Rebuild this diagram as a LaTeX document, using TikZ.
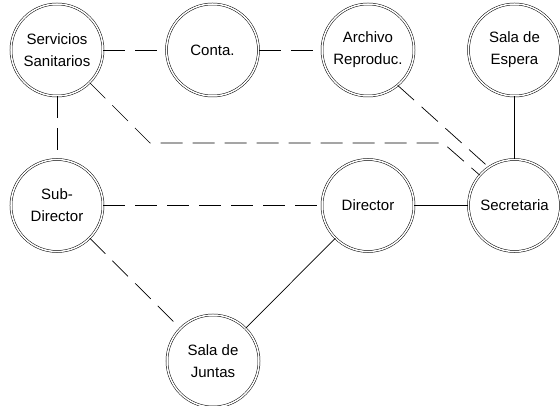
\documentclass[tikz,border=0pt]{standalone}
\usepackage{fontspec}
\setmainfont{Liberation Sans}
\usetikzlibrary{positioning}

\begin{document}
\begin{tikzpicture}[
        node distance=63pt,
        room/.style={circle, draw, double, double distance=1.5pt, line width=0.5pt, minimum size=92pt, inner sep=0pt, align=center, font=\fontsize{15}{22}\selectfont},
        solido/.style={line width=0.7pt},
        guion/.style={line width=0.7pt, dash pattern=on 22pt off 10pt}
    ]
    \useasboundingbox (0pt,0pt) rectangle (560pt,-406pt);
    \node[room] at (57pt,-50pt) (ss) {Servicios\\Sanitarios};
    \node[room, right=of ss] (conta) {Conta.};
    \node[room, right=of conta] (archivo) {Archivo\\Reproduc.};
    \node[room, right=54pt of archivo] (espera) {Sala de\\Espera};
    \node[room, below=of ss] (subdir) {Sub-\\Director};
    \node[room, below=of archivo] (director) {Director};
    \node[room, below=of espera] (secre) {Secretaria};
    \node[room, below=of subdir, xshift=156pt] (juntas) {Sala de\\Juntas};
    \coordinate (codo1) at (150pt,-143pt);
    \coordinate (codo2) at (443pt,-143pt);
    \draw[guion] (ss) -- (conta);
    \draw[guion] (conta) -- (archivo);
    \draw[guion] (ss) -- (subdir);
    \draw[guion] (ss) -- (codo1) -- (codo2) -- (secre);
    \draw[guion] (archivo.-50) -- (secre.124);
    \draw[solido] (espera) -- (secre);
    \draw[guion] (subdir) -- (director);
    \draw[solido] (director) -- (secre);
    \draw[guion] (subdir) -- (juntas);
    \draw[solido] (director) -- (juntas);
\end{tikzpicture}
\end{document}
